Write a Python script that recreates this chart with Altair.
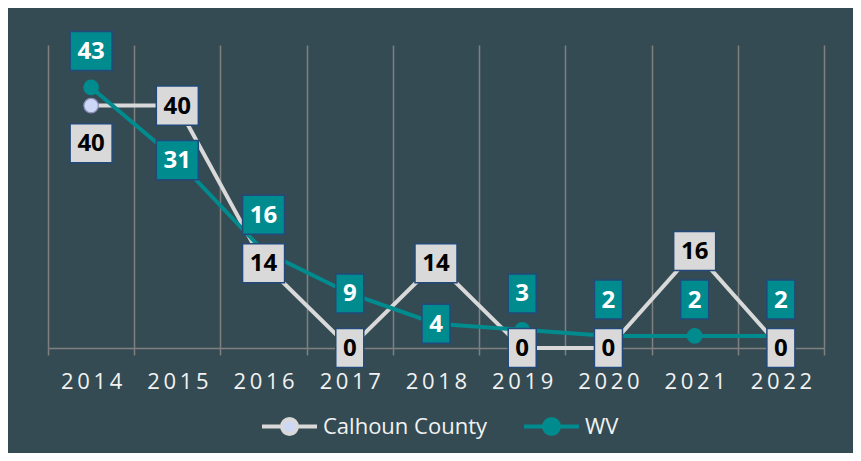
import altair as alt
import pandas as pd

years = ["2014", "2015", "2016", "2017", "2018", "2019", "2020", "2021", "2022"]
calhoun = [40, 40, 14, 0, 14, 0, 0, 16, 0]
wv = [43, 31, 16, 9, 4, 3, 2, 2, 2]
calhoun_place = ["below", "center", "center", "center", "center", "center", "center", "center", "center"]
wv_place = ["above", "center", "above", "center", "center", "above", "above", "above", "above"]
series_names = ["Calhoun County", "WV"]

rows = []
for i, y in enumerate(years):
    rows.append({"year": y, "series": series_names[0], "value": calhoun[i], "place": calhoun_place[i], "order": 0})
    rows.append({"year": y, "series": series_names[1], "value": wv[i], "place": wv_place[i], "order": 1})
df = pd.DataFrame(rows)

BG = "#344b53"
GRID = "#7f7f7f"
GRAY_LINE = "#d9d9d9"
LAVENDER = "#cdd8f6"
TEAL = "#008b8f"
BORDER = "#22497a"
FONT = "Open Sans"

x_enc = alt.X(
    "year:N",
    sort=years,
    scale=alt.Scale(type="band", paddingInner=0, paddingOuter=0),
    axis=alt.Axis(
        title=None,
        labelAngle=0,
        tickBand="extent",
        grid=True,
        gridColor=GRID,
        gridWidth=1.5,
        domainColor=GRID,
        domainWidth=1.5,
        tickColor=GRID,
        tickWidth=1.5,
        tickSize=7,
        labelColor="#f2f2f2",
        labelFont=FONT,
        labelFontSize=22,
        labelBaseline="middle",
        labelPadding=26,
        labelExpr="join(split(datum.label, ''), '\u2009')",
    ),
)
y_scale = alt.Scale(domain=[0, 50], nice=False, zero=True)

legend_path = "M-1,0H-0.27M0.27,0H1M-0.27,0A0.27,0.27,0,1,0,0.27,0A0.27,0.27,0,1,0,-0.27,0Z"

stroke_scale = alt.Scale(domain=series_names, range=[GRAY_LINE, TEAL])
fill_scale = alt.Scale(domain=series_names, range=[LAVENDER, TEAL])
legend = alt.Legend(
    title=None,
    orient="none",
    direction="horizontal",
    legendX=212,
    legendY=352,
    symbolType=legend_path,
    symbolSize=3025,
    symbolStrokeWidth=4,
    labelColor="#f2f2f2",
    labelFont=FONT,
    labelFontSize=22,
    labelOffset=4,
    labelLimit=400,
    columnPadding=28,
    padding=0,
)

base = alt.Chart(df).transform_calculate(
    label_y="datum.value + (datum.place == 'above' ? 6 : (datum.place == 'below' ? -6.2 : 0))",
    label="toString(datum.value)",
)

lines = base.mark_line(strokeWidth=4).encode(
    x=x_enc,
    y=alt.Y("value:Q", scale=y_scale, axis=None),
    stroke=alt.Stroke("series:N", scale=stroke_scale, legend=legend),
    order=alt.Order("order:Q"),
)

points = base.mark_point(filled=True, size=210, opacity=1, strokeWidth=1.2).encode(
    x=x_enc,
    y=alt.Y("value:Q", scale=y_scale, axis=None),
    fill=alt.Fill("series:N", scale=fill_scale, legend=legend),
    stroke=alt.condition("datum.series == 'WV'", alt.value(TEAL), alt.value("#8c90b8")),
)

box_two = "M-1,-0.93H1V0.93H-1Z"
box_one = "M-0.667,-0.93H0.667V0.93H-0.667Z"


def label_layers(series, fill, text_color):
    sub = base.transform_filter(alt.datum.series == series)
    box = sub.mark_point(filled=True, size=1764, opacity=1, fill=fill, stroke=BORDER, strokeWidth=1.5).encode(
        x=x_enc,
        y=alt.Y("label_y:Q", scale=y_scale, axis=None),
        shape=alt.condition("length(datum.label) > 1", alt.value(box_two), alt.value(box_one)),
    )
    txt = sub.mark_text(font=FONT, fontSize=24, fontWeight="bold", color=text_color, baseline="middle", dy=1).encode(
        x=x_enc,
        y=alt.Y("label_y:Q", scale=y_scale, axis=None),
        text="label:N",
    )
    return [box, txt]


layers = [lines, points] + label_layers("WV", TEAL, "#ffffff") + label_layers("Calhoun County", "#d9d9d9", "#000000")

chart = alt.layer(*layers).properties(
    width=776,
    height=303,
    background=BG,
    padding={"left": 40, "top": 37, "right": 29, "bottom": 105},
    autosize=alt.AutoSizeParams(type="none"),
).configure_view(stroke=None)

chart.save("out.html", embed_options={"renderer": "svg", "actions": False})
